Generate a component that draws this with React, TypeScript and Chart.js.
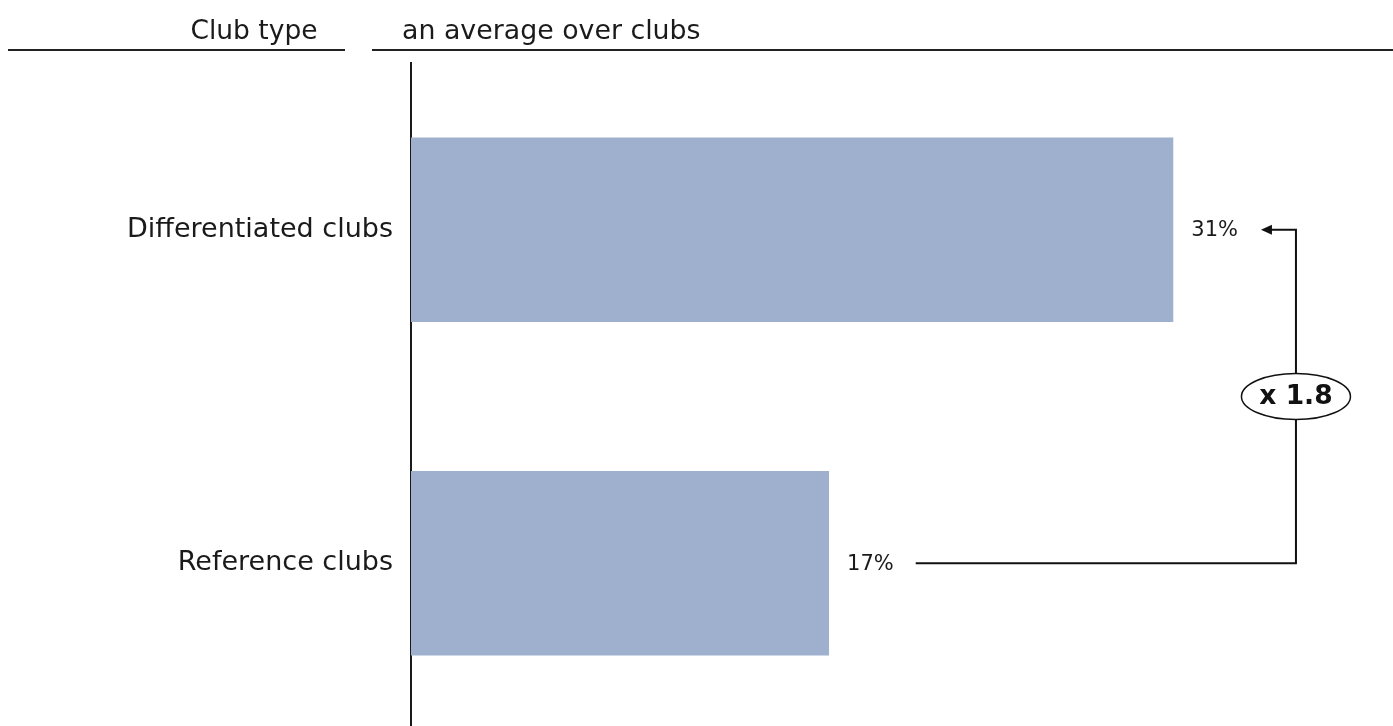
import { useEffect, useRef } from "react";
import { Chart, registerables } from "chart.js";

Chart.register(...registerables);

// Data
const categories = ["Differentiated clubs", "Reference clubs"];
const shares = [31, 17];
const valueLabels = ["31%", "17%"];
const headerLeft = "Club type";
const headerRight = "an average over clubs";

const FONT = '"DejaVu Sans", Verdana, sans-serif';
const INK = "#1a1a1a";
const BAR_COLOR = "#9EB0CE";

// Column headers with their underline rules
const headersPlugin = {
  id: "headers",
  beforeDraw(chart: any) {
    const ctx = chart.ctx as CanvasRenderingContext2D;
    ctx.save();
    ctx.fillStyle = INK;
    ctx.font = `26.5px ${FONT}`;
    ctx.textBaseline = "alphabetic";
    ctx.textAlign = "center";
    ctx.fillText(headerLeft, 254, 39);
    ctx.textAlign = "left";
    ctx.font = `26.8px ${FONT}`;
    ctx.fillText(headerRight, 402, 39);

    ctx.strokeStyle = "#222";
    ctx.lineWidth = 2;
    ctx.beginPath();
    ctx.moveTo(8, 50);
    ctx.lineTo(345, 50);
    ctx.moveTo(372, 50);
    ctx.lineTo(chart.width, 50);
    ctx.stroke();
    ctx.restore();
  },
};

// Value labels and the ratio connector between the two bars
const annotationPlugin = {
  id: "ratioAnnotation",
  afterDatasetsDraw(chart: any) {
    const ctx = chart.ctx as CanvasRenderingContext2D;
    const bars = chart.getDatasetMeta(0).data;
    ctx.save();
    ctx.fillStyle = INK;
    ctx.font = `21px ${FONT}`;
    ctx.textAlign = "left";
    ctx.textBaseline = "middle";
    const ends = bars.map((bar: any, i: number) => {
      const x = bar.x + 18;
      ctx.fillText(valueLabels[i], x, bar.y + 1);
      return x + ctx.measureText(valueLabels[i]).width;
    });

    const topY = bars[0].y;
    const botY = bars[1].y;
    const cx = ends[0] + 58;
    const midY = (topY + botY) / 2;
    const rx = 54.5;
    const ry = 23;
    const tipX = ends[0] + 23;

    ctx.strokeStyle = "#111";
    ctx.lineWidth = 2;
    ctx.beginPath();
    ctx.moveTo(ends[1] + 22, botY);
    ctx.lineTo(cx, botY);
    ctx.lineTo(cx, midY + ry);
    ctx.moveTo(cx, midY - ry);
    ctx.lineTo(cx, topY);
    ctx.lineTo(tipX + 9, topY);
    ctx.stroke();

    // arrow head
    ctx.fillStyle = "#111";
    ctx.beginPath();
    ctx.moveTo(tipX, topY);
    ctx.lineTo(tipX + 11, topY - 5);
    ctx.lineTo(tipX + 11, topY + 5);
    ctx.closePath();
    ctx.fill();

    // ratio badge
    ctx.beginPath();
    ctx.ellipse(cx, midY, rx, ry, 0, 0, Math.PI * 2);
    ctx.fillStyle = "#fff";
    ctx.fill();
    ctx.lineWidth = 1.5;
    ctx.stroke();
    ctx.fillStyle = "#111";
    ctx.font = `bold 26.5px ${FONT}`;
    ctx.textAlign = "center";
    ctx.fillText(`x ${(shares[0] / shares[1]).toFixed(1)}`, cx, midY + 1);
    ctx.restore();
  },
};

export default function App() {
  const canvasRef = useRef<HTMLCanvasElement | null>(null);

  useEffect(() => {
    if (!canvasRef.current) return;
    const chart = new Chart(canvasRef.current, {
      type: "bar",
      data: {
        labels: categories,
        datasets: [
          {
            data: shares,
            backgroundColor: BAR_COLOR,
            borderWidth: 0,
            categoryPercentage: 1,
            barPercentage: 0.553,
          },
        ],
      },
      options: {
        indexAxis: "y",
        responsive: false,
        animation: false,
        layout: { padding: { top: 63, right: 23, bottom: 0, left: 0 } },
        plugins: {
          legend: { display: false },
          tooltip: { enabled: false },
        },
        scales: {
          x: { display: false, min: 0, max: 39 },
          y: {
            z: 1,
            afterFit: (scale: any) => {
              scale.width = 411;
              scale.paddingTop = 0;
              scale.paddingBottom = 0;
            },
            grid: { display: false, drawTicks: false },
            border: { display: true, color: "#1a1a1a", width: 2 },
            ticks: {
              color: INK,
              padding: 18,
              font: { family: FONT, size: 27 },
            },
          },
        },
      },
      plugins: [headersPlugin, annotationPlugin],
    });
    return () => chart.destroy();
  }, []);

  return (
    <div
      style={{
        position: "absolute",
        left: 0,
        top: 0,
        width: 1393,
        height: 726,
        overflow: "hidden",
        background: "#fff",
      }}
    >
      <canvas ref={canvasRef} width={1393} height={730} style={{ display: "block" }} />
    </div>
  );
}
